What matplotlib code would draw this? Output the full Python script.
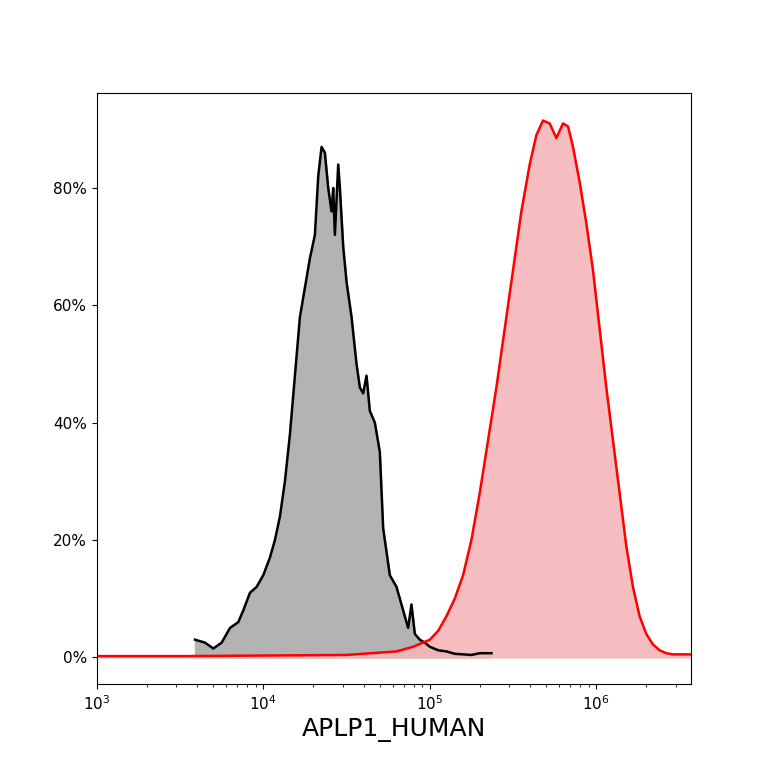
import matplotlib
matplotlib.use("Agg")
import matplotlib.pyplot as plt
import numpy as np
from matplotlib.ticker import PercentFormatter

gray_logx = [3.59,3.65,3.7,3.75,3.8,3.85,3.88,3.92,3.96,4.0,4.04,4.07,4.1,4.13,4.16,4.19,4.22,4.25,4.28,4.31,4.33,4.35,4.37,4.39,4.41,4.42,4.43,4.45,4.46,4.48,4.5,4.53,4.56,4.58,4.6,4.62,4.64,4.67,4.7,4.72,4.74,4.76,4.8,4.83,4.85,4.87,4.89,4.91,4.94,4.97,5.0,5.05,5.1,5.15,5.2,5.25,5.3,5.37]
gray_pct  = [3,2.5,1.5,2.5,5,6,8,11,12,14,17,20,24,30,38,48,58,63,68,72,82,87,86,80,76,80,72,84,80,70,64,58,50,46,45,48,42,40,35,22,18,14,12,9,7,5,9,4,3,2.5,1.8,1.2,1,0.6,0.5,0.4,0.7,0.7]
red_logx = [3.0,3.5,4.0,4.5,4.8,4.9,5.0,5.05,5.1,5.15,5.2,5.25,5.3,5.35,5.4,5.45,5.5,5.55,5.6,5.64,5.68,5.72,5.76,5.8,5.83,5.86,5.9,5.94,5.98,6.02,6.06,6.1,6.14,6.18,6.22,6.26,6.3,6.34,6.38,6.42,6.46,6.5,6.57]
red_pct  = [0.2,0.2,0.3,0.4,1,1.8,3,4.5,7,10,14,20,28,37,46,56,66,76,84,89,91.5,91,88.5,91,90.5,87,81,74,66,56,46,37,28,19,12,7,4,2.2,1.2,0.7,0.5,0.5,0.5]

fig, ax = plt.subplots(figsize=(7.68,7.68), dpi=100)
fig.subplots_adjust(left=0.126, right=0.9, top=0.879, bottom=0.109)
gx = 10**np.array(gray_logx); rx = 10**np.array(red_logx)
ax.fill_between(gx, gray_pct, color="#b3b3b3")
ax.plot(gx, gray_pct, color="black", lw=1.8)
ax.fill_between(rx, red_pct, color="#f4b6b9", alpha=0.9)
ax.plot(rx, red_pct, color="red", lw=1.8)
ax.set_xscale("log")
ax.set_xlim(1e3, 10**6.57)
ax.set_ylim(-4.6, 96.2)
ax.set_yticks([0,20,40,60,80])
ax.yaxis.set_major_formatter(PercentFormatter(decimals=0))
ax.tick_params(labelsize=11)
ax.set_xlabel("APLP1_HUMAN", fontsize=18)
fig.savefig("out.png")
